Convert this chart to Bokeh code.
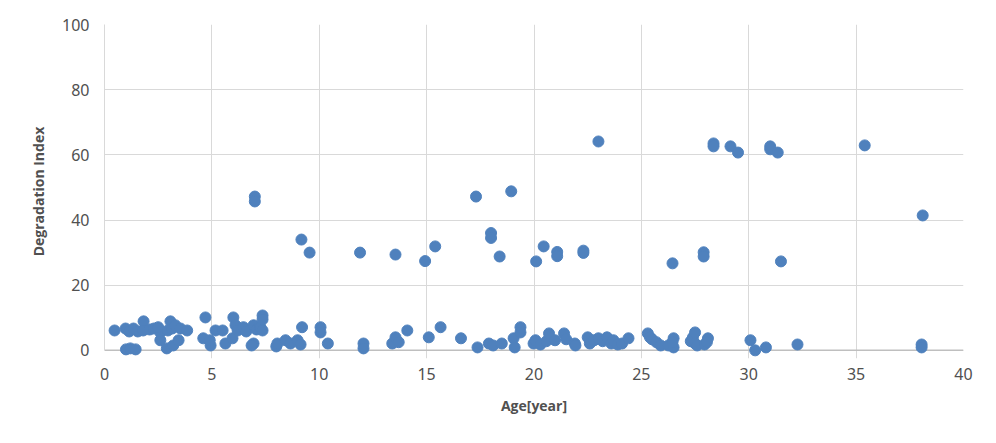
from bokeh.plotting import figure
from bokeh.models import Range1d, Span, FixedTicker
from bokeh.embed import file_html
from bokeh.resources import INLINE

# Age [year] and Degradation Index
low_age = [0.47, 0.98, 1.0, 1.2, 1.45, 1.15, 1.35, 1.55, 1.82, 1.8, 2.1, 2.3, 2.6, 2.6, 2.5,
           2.9, 2.95, 3.07, 3.15, 3.2, 3.3, 3.45, 3.54, 3.85, 4.7, 4.6, 4.94, 4.9, 5.17, 5.5,
           5.63, 6.0, 6.1, 5.96, 6.2, 6.47, 6.6, 6.94, 6.94, 6.85, 7.08, 7.26, 7.36, 7.36, 7.36,
           8.0, 8.05, 8.43, 8.66, 8.99, 9.13, 9.2, 10.06, 10.06, 10.4,
           12.06, 12.06, 13.4, 13.55, 13.7, 14.1, 15.1, 15.65, 16.6, 17.37, 17.9, 18.1, 18.5,
           19.05, 19.1, 19.37, 19.37, 19.98, 20.07, 20.3, 20.58, 20.7, 20.98, 21.4, 21.5, 21.9,
           21.93, 22.5, 22.6, 22.8, 23.0, 23.2, 23.4, 23.6, 23.7, 23.9, 24.1, 24.4, 25.3, 25.4,
           25.5, 25.7, 25.9, 26.26, 26.5, 26.5, 26.45, 27.3, 27.4, 27.5, 27.5, 27.6, 27.94,
           28.1, 28.05, 30.08, 30.3, 30.8, 32.27, 38.05, 38.05]
low_index = [6.1, 6.7, 0.3, 0.6, 0.3, 5.8, 6.7, 5.8, 8.9, 6.1, 6.4, 6.7, 5.5, 3.1, 7.1,
             0.6, 6.1, 8.9, 6.7, 1.5, 7.7, 3.1, 6.7, 6.1, 10.1, 3.7, 1.5, 3.1, 6.1, 6.1,
             2.1, 10.1, 7.7, 3.7, 6.1, 7.1, 5.8, 7.7, 2.1, 1.5, 6.4, 7.1, 10.7, 9.5, 6.1,
             1.2, 2.1, 3.1, 2.1, 3.1, 1.8, 7.1, 7.1, 5.5, 2.1,
             2.1, 0.6, 2.1, 4.0, 2.5, 6.1, 4.0, 7.1, 3.7, 0.9, 2.1, 1.5, 2.1,
             3.7, 0.9, 7.1, 5.5, 2.1, 3.1, 1.8, 2.8, 5.2, 3.1, 5.2, 3.4, 2.1,
             1.5, 4.0, 2.1, 3.1, 3.7, 2.8, 4.0, 2.1, 3.1, 1.8, 2.1, 3.7, 5.2, 4.0,
             3.4, 2.5, 1.5, 1.5, 3.7, 0.9, 2.5, 2.8, 4.0, 5.5, 2.1, 1.5, 1.8,
             3.7, 2.5, 3.1, 0.0, 0.9, 1.8, 1.8, 0.9]

high_age = [7.0, 7.0, 9.17, 9.55, 11.9, 13.55, 14.93, 15.4, 17.3, 18.94, 18.0, 18.0, 18.4,
            20.1, 20.45, 21.08, 21.08, 22.3, 22.3, 23.0, 26.45, 27.9, 27.9, 28.36, 28.36,
            29.15, 29.5, 31.0, 31.0, 31.35, 31.5, 35.4, 38.1]
high_index = [47.2, 45.7, 34.0, 30.0, 30.0, 29.4, 27.4, 31.9, 47.2, 48.8, 36.0, 34.5, 28.8,
              27.3, 31.9, 30.2, 28.9, 30.6, 29.9, 64.1, 26.7, 30.1, 28.8, 63.5, 62.6,
              62.6, 60.7, 62.6, 61.7, 60.7, 27.3, 62.9, 41.4]

age = low_age + high_age
index = low_index + high_index

x_ticks = [0, 5, 10, 15, 20, 25, 30, 35, 40]
y_ticks = [0, 20, 40, 60, 80, 100]

TXT = "#505050"
FONT = "Noto Sans"

p = figure(frame_width=859, frame_height=334,
           min_border_left=104, min_border_right=25, min_border_top=24, min_border_bottom=77,
           x_range=Range1d(0, 40), y_range=Range1d(-2.5, 100),
           output_backend="svg", toolbar_location=None, tools="")
p.outline_line_color = None
p.background_fill_color = "white"

p.scatter(age, index, size=11, color="#4F81BD", line_color="#4F81BD")

for ax in (p.xaxis[0], p.yaxis[0]):
    ax.major_tick_line_color = None
    ax.minor_tick_line_color = None
    ax.major_label_text_color = TXT
    ax.major_label_text_font = FONT
    ax.major_label_text_font_size = "16px"
    ax.major_label_text_font_style = "normal"
    ax.axis_label_text_color = TXT
    ax.axis_label_text_font = "Open Sans"
    ax.axis_label_text_font_style = "bold"
    ax.axis_label_text_font_size = "14px"

p.xaxis.ticker = FixedTicker(ticks=x_ticks)
p.yaxis.ticker = FixedTicker(ticks=y_ticks)
p.xaxis.axis_label = "Age[year]"
p.yaxis.axis_label = "Degradation Index"
p.xaxis.axis_line_color = None
p.xaxis.major_label_standoff = 3
p.xaxis.axis_label_standoff = 13
p.yaxis.axis_line_color = "#D9D9D9"
p.yaxis.bounds = (0, 100)
p.yaxis.major_label_standoff = 9
p.yaxis.axis_label_standoff = 11

p.xgrid.ticker = FixedTicker(ticks=x_ticks)
p.ygrid.ticker = FixedTicker(ticks=y_ticks)
p.xgrid.grid_line_color = "#D9D9D9"
p.ygrid.grid_line_color = "#D9D9D9"
p.xgrid.bounds = (0, 100)

base = Span(location=0, dimension="width", line_color="#BFBFBF", line_width=1.5, level="underlay")
p.add_layout(base)

open("out.html", "w").write(file_html(p, INLINE))
